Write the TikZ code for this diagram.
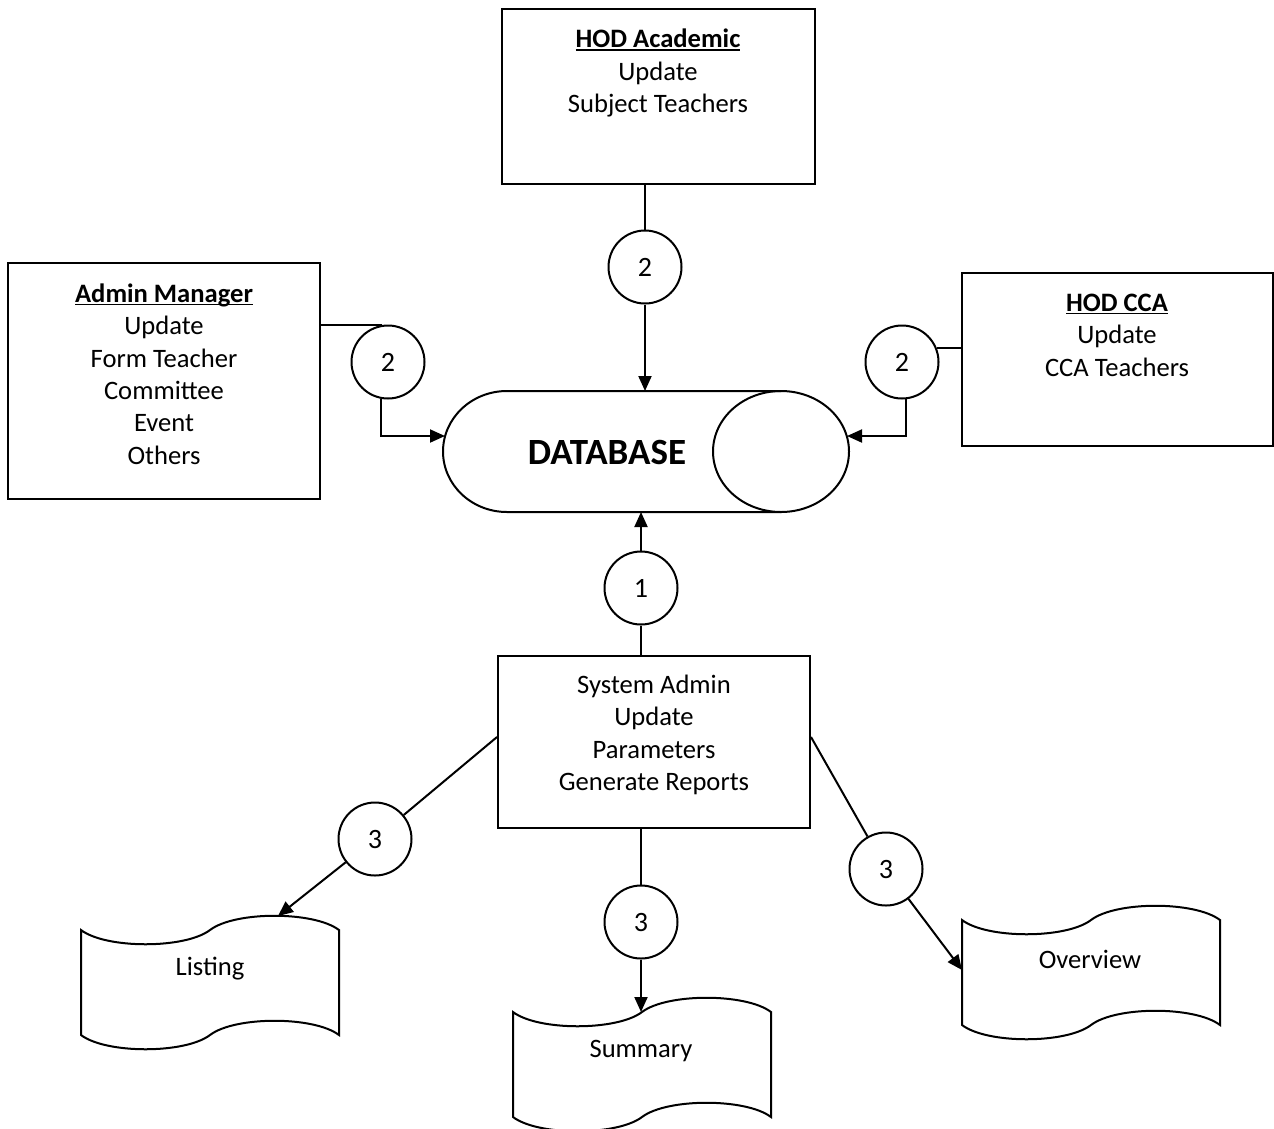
\documentclass[tikz,border=0pt]{standalone}
\usepackage{fontspec}
\setmainfont{Carlito}
\usetikzlibrary{arrows.meta,calc}
\newcommand\myul[1]{\setbox0\hbox{#1}\rlap{\rule[-3.2pt]{\wd0}{1.7pt}}\box0}
\tikzset{
  every node/.style={font=\fontsize{26.6}{32.4}\selectfont},
  ln/.style={line width=2pt},
  arr/.style={line width=2pt,-{Triangle[length=15pt,width=13pt]}},
  box/.style={draw,line width=2pt,rectangle,inner sep=0pt},
  txt/.style={align=center,inner sep=0pt},
  circ/.style={draw,circle,line width=2pt,minimum size=73pt,inner sep=0pt,font=\fontsize{28}{34}\selectfont},
  tape/.pic={\draw[line width=2pt,fill=white] (0,0) .. controls (25,19) and (104,19) .. (129,0) .. controls (154,-19) and (233,-19) .. (258,0) -- (258,105) .. controls (233,86) and (154,86) .. (129,105) .. controls (104,124) and (25,124) .. (0,105) -- cycle;}
}
\begin{document}
\begin{tikzpicture}[x=1pt,y=-1pt]
\useasboundingbox (0,0) rectangle (1274,1128);
% boxes
\node[box,minimum width=313pt,minimum height=175pt] (hodacad) at (658.5,96.5) {};
\node[txt] (hodacadtxt) at (658,73) {\textbf{\myul{HOD Academic}}\\Update\\Subject Teachers};
\node[box,minimum width=312pt,minimum height=236pt] (admin) at (164,381) {};
\node[txt] (admintxt) at (164,374) {\textbf{\myul{Admin Manager}}\\Update\\Form Teacher\\Committee\\Event\\Others};
\node[box,minimum width=311pt,minimum height=173pt] (hodcca) at (1117.5,359.5) {};
\node[txt] (hodccatxt) at (1117,335) {\textbf{\myul{HOD CCA}}\\Update\\CCA Teachers};
\node[box,minimum width=312pt,minimum height=172pt] (sysadm) at (654,742) {};
\node[txt] (sysadmtxt) at (654,735) {System Admin\\Update\\Parameters\\Generate Reports};
% database
\node[inner sep=0pt,minimum width=406pt,minimum height=121pt] (db) at (646,451.5) {};
\draw[line width=2pt] (781,391) -- (507,391) arc[start angle=270,end angle=90,x radius=64,y radius=60.5] -- (781,512);
\draw[line width=2pt] (781,451.5) ellipse[x radius=68,y radius=60.5];
\node[txt,font=\fontsize{37}{44}\selectfont\bfseries] (dbtxt) at (607,452) {DATABASE};
\coordinate (dbT) at (645,391);
\coordinate (dbB) at (641,512);
\coordinate (dbL) at (445,436);
\coordinate (dbR) at (847,436);
% circles
\node[circ] (c2t) at (645,267) {2};
\node[circ] (c2l) at (388,362) {2};
\node[circ] (c2r) at (902,362) {2};
\node[circ] (c1) at (641,588) {1};
\node[circ] (c3l) at (375,839) {3};
\node[circ] (c3m) at (641,922) {3};
\node[circ] (c3r) at (886,869) {3};
% documents
\pic at (81,930) {tape};
\pic at (513,1012) {tape};
\pic at (962,920) {tape};
\node[txt] (listing) at (210,969) {Listing};
\node[txt] (summary) at (641,1051) {Summary};
\node[txt] (overview) at (1090,959) {Overview};
\coordinate (lstT) at (278,916);
\coordinate (sumT) at (641,1012);
\coordinate (ovL) at (962,970);
% connectors
\draw[ln] (hodacad.south -| c2t) -- (c2t);
\draw[arr] (c2t) -- (dbT);
\draw[ln] (c2l.99) -- (c2l.99 -| admin.east);
\draw[arr] (c2l.259) |- (dbL);
\draw[ln] (c2r.22) -- (c2r.22 -| hodcca.west);
\draw[arr] (c2r.276) |- (dbR);
\draw[ln] (sysadm.north -| c1) -- (c1);
\draw[arr] (c1) -- (dbB);
\draw[ln] ([yshift=5pt]sysadm.west) -- (c3l);
\draw[arr] (c3l) -- (lstT);
\draw[ln] (sysadm.south -| c3m) -- (c3m);
\draw[arr] (c3m) -- (sumT);
\draw[ln] ([yshift=5pt]sysadm.east) -- (c3r);
\draw[arr] (c3r) -- (ovL);
\end{tikzpicture}
\end{document}
